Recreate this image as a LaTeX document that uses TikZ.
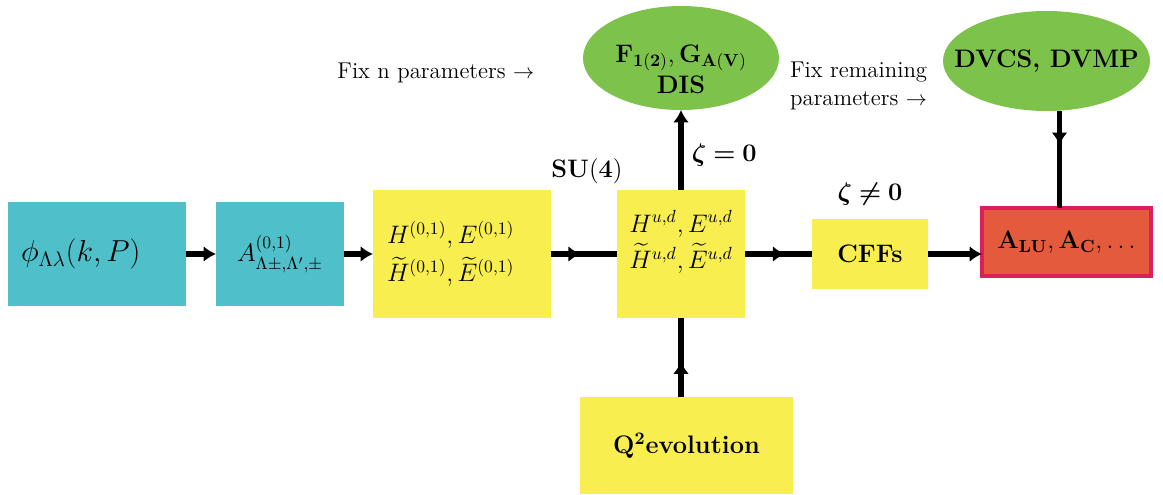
\documentclass[tikz,border=0pt]{standalone}
\usepackage{amsmath}
\usepackage{amssymb}
\usepackage{bm}
\usetikzlibrary{positioning,shapes.geometric,arrows.meta,decorations.markings}
\definecolor{ampcyan}{HTML}{4FBFC9}
\definecolor{gpdyellow}{HTML}{F8EE50}
\definecolor{expgreen}{HTML}{7DC24B}
\definecolor{obsred}{HTML}{E45A3C}
\definecolor{obsrim}{HTML}{DC1E5A}

\begin{document}
\begin{tikzpicture}[>={Latex[length=7pt,width=9pt]},line width=3.2pt,outer sep=0pt,
    cyanbox/.style={fill=ampcyan,minimum height=2.08cm,inner sep=2pt},
    yellowbox/.style={fill=gpdyellow,inner sep=2pt,align=left},
    expblob/.style={ellipse,fill=expgreen,inner sep=0pt,font=\Large\bfseries},
    fixlabel/.style={font=\fontsize{13}{16}\selectfont},
    midarrow/.style={postaction={decorate},decoration={markings,mark=at position #1 with {\arrow{>}}}}]
    \useasboundingbox (0,0) rectangle (23.26,-9.9);
    % main chain
    \node[cyanbox,minimum width=3.56cm,text width=3.04cm,inner xsep=0.26cm,align=left] (phi) at (1.94,-5.08) {\LARGE $\phi_{\Lambda\lambda}(k,P)$};
    \node[cyanbox,minimum width=2.56cm,right=0.6cm of phi] (amp) {\Large $A^{(0,1)}_{\Lambda\pm,\Lambda',\pm}$};
    \node[yellowbox,minimum width=3.56cm,minimum height=2.56cm,text width=3.0cm,inner xsep=0.28cm,right=0.58cm of amp] (gpdzero)
        {\Large $H^{(0,1)},E^{(0,1)}$\\[4pt] \Large $\widetilde{H}^{(0,1)},\widetilde{E}^{(0,1)}$};
    \node[yellowbox,minimum width=2.56cm,minimum height=2.56cm,right=1.32cm of gpdzero] (gpdud)
        {\raisebox{0.14cm}[0.7cm][0.7cm]{\begin{tabular}{@{}l@{}}\Large $H^{u,d},E^{u,d}$\\[3pt] \Large $\widetilde{H}^{u,d},\widetilde{E}^{u,d}$\end{tabular}}};
    \node[yellowbox,minimum width=2.32cm,minimum height=1.4cm,font=\Large\bfseries,right=1.34cm of gpdud] (cffs) {CFFs};
    \node[fill=obsred,draw=obsrim,line width=2.2pt,minimum width=3.38cm,minimum height=1.36cm,right=1.08cm of cffs,yshift=0.24cm] (obs)
        {\Large $\mathbf{A}_{\mathbf{LU}},\mathbf{A}_{\mathbf{C}},\ldots$};
    \node[yellowbox,minimum width=4.26cm,minimum height=1.94cm,font=\Large\bfseries,below=1.58cm of gpdud,xshift=0.11cm] (evol)
        {Q$^{\mathbf{2}}$evolution};
    % experiments
    \node[expblob,minimum width=3.92cm,minimum height=2.08cm,above=1.6cm of gpdud] (dis)
        {\raisebox{-0.4cm}[0.55cm][0.55cm]{\begin{tabular}{@{}c@{}}$\mathbf{F}_{\mathbf{1(2)}},\mathbf{G}_{\mathbf{A(V)}}$\\[0pt] DIS\end{tabular}}};
    \node[expblob,minimum width=4.14cm,minimum height=2.0cm,above=1.94cm of obs,xshift=-0.4cm] (dvcs)
        {\makebox[2.6cm]{DVCS, DVMP}};
    % labels
    \node[fixlabel,left=0.86cm of dis,yshift=-0.3cm] (fixn) {Fix n parameters $\rightarrow$};
    \node[fixlabel,align=left,left=0.2cm of dvcs,yshift=-0.5cm] (fixrest) {Fix remaining\\ parameters $\rightarrow$};
    \node[font=\Large,above=0cm of gpdud.north west,xshift=-0.6cm] (sufour) {$\mathbf{SU(4)}$};
    \node[font=\Large,above=0.15cm of cffs] (zetanot) {$\bm{\zeta\neq0}$};
    % connectors
    \draw[->] (phi) -- (amp);
    \draw[->] (amp) -- (gpdzero);
    \draw[midarrow=0.45] (gpdzero) -- (gpdud);
    \draw[midarrow=0.6] (gpdud) -- (cffs);
    \draw[->] (cffs) -- (cffs -| obs.west);
    \draw[->] (gpdud.north) -- (gpdud.north |- dis.south)
        node[pos=0.44,right=0.1cm,font=\Large] (zetazero) {$\bm{\zeta=0}$};
    \draw[midarrow=0.45] (evol.north -| gpdud) -- (gpdud.south);
    \draw[midarrow=0.35] ([xshift=0.26cm]dvcs.south) -- ([xshift=0.26cm]dvcs.south |- obs.north);
\end{tikzpicture}
\end{document}
